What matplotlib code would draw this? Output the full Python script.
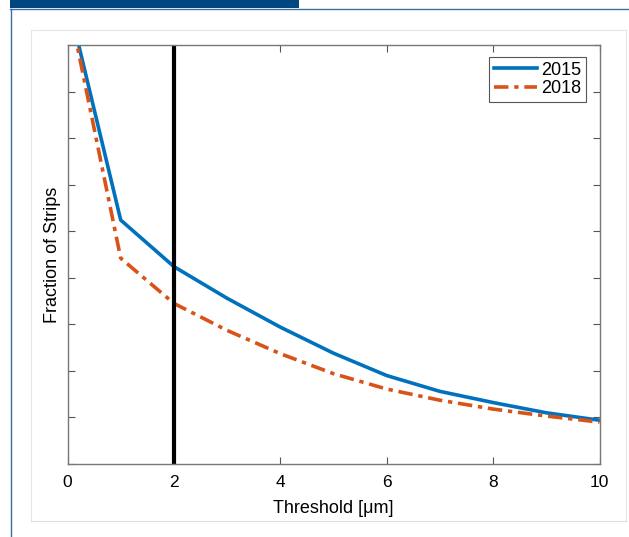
import numpy as np
import matplotlib
matplotlib.use("Agg")
import matplotlib.pyplot as plt
from matplotlib.patches import Rectangle
from matplotlib.lines import Line2D

plt.rcParams['font.family'] = ['Liberation Sans', 'DejaVu Sans']

# threshold values and strip fractions
threshold = [0, 1, 2, 3, 4, 5, 6, 7, 8, 9, 10]
frac_2015 = [1.0, 0.524, 0.424, 0.356, 0.294, 0.238, 0.190, 0.156, 0.132, 0.110, 0.094]
frac_2018 = [1.0, 0.442, 0.345, 0.287, 0.237, 0.194, 0.161, 0.137, 0.118, 0.103, 0.090]
labels = ['2015', '2018']
cut = 2

W, H = 629, 537
fig = plt.figure(figsize=(W/100, H/100), dpi=100)

# slide decoration (pixel coords -> figure fraction)
def px_rect(x0, y0, x1, y1, **kw):
    fig.patches.append(Rectangle((x0/W, 1 - y1/H), (x1-x0)/W, (y1-y0)/H,
                                 transform=fig.transFigure, **kw))

def px_line(xs, ys, **kw):
    fig.lines.append(Line2D([x/W for x in xs], [1 - y/H for y in ys],
                            transform=fig.transFigure, **kw))

px_rect(10, 0, 299, 8, facecolor='#00467f', edgecolor='none')
px_line([10, 629], [9, 9], color='#3a6ea5', lw=1.0)
px_line([11, 11], [9, 537], color='#3a6ea5', lw=1.0)
px_line([31, 31, 626, 626], [521, 30, 30, 521], color='#e6e6e6', lw=0.8)
px_line([31, 626], [521, 521], color='#dddddd', lw=0.8)

ax = fig.add_axes([67.5/W, 1 - 464/H, 532/W, 419/H])
ax.plot(threshold, frac_2015, color='#0072bd', lw=2.6, label=labels[0])
ax.plot(threshold, frac_2018, color='#d95319', lw=2.6, label=labels[1],
        dashes=(4, 1.6, 1.2, 1.6))
ax.axvline(cut, color='black', lw=3.0)

ax.set_xlim(0, 10)
ax.set_ylim(0, 0.9)
ax.set_xticks([0, 2, 4, 6, 8, 10])
ax.set_yticks(np.arange(0, 0.91, 0.1))
ax.set_yticklabels([])
ax.tick_params(direction='in', length=5, width=0.8, color='#555555',
               top=True, right=True, labelsize=12.5, pad=8)
for s in ax.spines.values():
    s.set_color('#777777')
    s.set_linewidth(1.0)

ax.set_xlabel('Threshold [μm]', fontsize=13, labelpad=7)
ax.set_ylabel('Fraction of Strips', fontsize=13)
ax.yaxis.set_label_coords(-0.013, 0.5)

leg = ax.legend(loc='upper right', bbox_to_anchor=(586/W, 1 - 57/H),
                bbox_transform=fig.transFigure, fontsize=13, frameon=True,
                fancybox=False, framealpha=1, edgecolor='#555555',
                handlelength=2.4, handletextpad=0.25, borderpad=0.25,
                labelspacing=0.1, borderaxespad=0)
leg.get_frame().set_linewidth(0.8)

fig.savefig('out.png', dpi=100)
